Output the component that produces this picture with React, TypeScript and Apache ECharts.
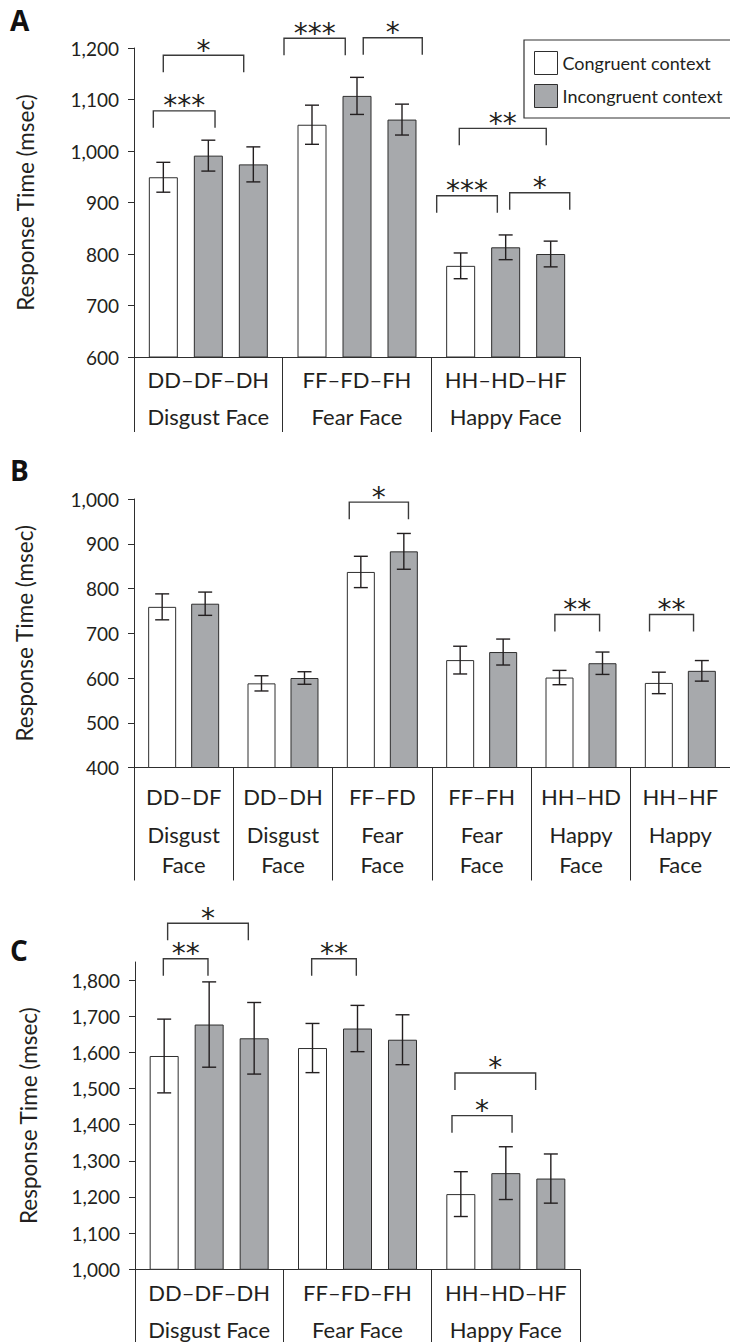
import React, { useEffect, useRef } from "react";
import * as echarts from "echarts";

const FONT = 'Lato, "Noto Sans", sans-serif';
const STAR_FONT = '"DejaVu Sans", sans-serif';
const INK = "#231f20";
const EDGE = "#2e2e2e";
const GRAY = "#a7a9ac";

// ---------- Panel A ----------
const contrastsA = ["DD–DF–DH", "FF–FD–FH", "HH–HD–HF"];
const groupsA = ["Disgust Face", "Fear Face", "Happy Face"];
const congruentA = [949, 1051, 777];
const congruentErrA = [29, 38, 25];
const incongruent1A = [991, 1107, 813];
const incongruent1ErrA = [30, 36, 24];
const incongruent2A = [974, 1061, 800];
const incongruent2ErrA = [34, 30, 25];
const ticksA = [600, 700, 800, 900, 1000, 1100, 1200];
// [x start, x end (category units), bracket level (msec), label]
const bracketsA: [number, number, number, string][] = [
  [-0.37, 0.045, 1078, "***"],
  [-0.303, 0.238, 1186, "*"],
  [0.509, 0.921, 1219, "***"],
  [1.042, 1.439, 1220, "*"],
  [1.688, 2.273, 1044, "**"],
  [1.536, 1.944, 913, "***"],
  [2.027, 2.431, 919, "*"],
];

// ---------- Panel B ----------
const contrastsB = ["DD–DF", "DD–DH", "FF–FD", "FF–FH", "HH–HD", "HH–HF"];
const groupsB = ["Disgust Face", "Disgust Face", "Fear Face", "Fear Face", "Happy Face", "Happy Face"];
const congruentB = [759, 588, 837, 640, 601, 589];
const congruentErrB = [29, 17, 35, 31, 16, 24];
const incongruentB = [766, 600, 883, 658, 633, 616];
const incongruentErrB = [26, 14, 40, 29, 25, 23];
const ticksB = [400, 500, 600, 700, 800, 900, 1000];
const bracketsB: [number, number, number, string][] = [
  [1.667, 2.263, 993, "*"],
  [3.737, 4.187, 742, "**"],
  [4.69, 5.133, 742, "**"],
];

// ---------- Panel C ----------
const contrastsC = ["DD–DF–DH", "FF–FD–FH", "HH–HD–HF"];
const groupsC = ["Disgust Face", "Fear Face", "Happy Face"];
const congruentC = [1590, 1612, 1208];
const congruentErrC = [102, 68, 62];
const incongruent1C = [1677, 1666, 1266];
const incongruent1ErrC = [118, 64, 73];
const incongruent2C = [1639, 1635, 1251];
const incongruent2ErrC = [99, 69, 68];
const ticksC = [1000, 1100, 1200, 1300, 1400, 1500, 1600, 1700, 1800];
const bracketsC: [number, number, number, string][] = [
  [-0.309, -0.008, 1859, "**"],
  [-0.28, 0.264, 1957, "*"],
  [0.691, 0.992, 1859, "**"],
  [1.637, 2.042, 1425, "*"],
  [1.657, 2.201, 1543, "*"],
];

const fmt = (v: number) => String(v).replace(/\B(?=(\d{3})+(?!\d))/g, ",");

function yAxis(grid: number, min: number, max: number, ticks: number[], nameGap: number) {
  return {
    gridIndex: grid,
    type: "value",
    min,
    max,
    interval: 100,
    name: "Response Time (msec)",
    nameLocation: "middle",
    nameGap,
    nameTextStyle: { fontFamily: FONT, fontSize: 22.5, color: INK },
    axisLine: { show: true, onZero: false, lineStyle: { color: EDGE, width: 1 } },
    axisTick: { show: true, length: 6, customValues: ticks, lineStyle: { color: EDGE, width: 1 } },
    splitLine: { show: false },
    axisLabel: {
      customValues: ticks,
      margin: 15,
      fontFamily: FONT,
      fontSize: 19,
      color: INK,
      formatter: (v: number) => fmt(v),
    },
  };
}

function catAxis(grid: number, data: string[], groups: string[], tickLen: number, rowGap: number, margin: number, split: boolean) {
  return {
    gridIndex: grid,
    type: "category",
    data,
    axisLine: { show: true, onZero: false, lineStyle: { color: EDGE, width: 1 } },
    axisTick: { show: true, interval: 0, length: tickLen, lineStyle: { color: EDGE, width: 1 } },
    axisLabel: {
      interval: 0,
      margin,
      fontFamily: FONT,
      color: INK,
      formatter: (v: string, i: number) => {
        const g = groups[i];
        if (split) {
          const w = g.split(" ");
          return `{a|${v}}\n{b|${w[0]}}\n{b|${w[1]}}`;
        }
        return `{a|${v}}\n{b|${g}}`;
      },
      rich: {
        a: { fontFamily: FONT, fontSize: 22, color: INK, lineHeight: rowGap },
        b: { fontFamily: FONT, fontSize: 22, color: INK, lineHeight: split ? 30 : rowGap },
      },
    },
  };
}

function hiddenAxis(grid: number, n: number) {
  return { gridIndex: grid, type: "value", min: -0.5, max: n - 0.5, show: false, axisLine: { onZero: false } };
}

function barSeries(name: string, xi: number, yi: number, data: number[], color: string, width: number, spacing: number) {
  return {
    type: "bar",
    name,
    xAxisIndex: xi,
    yAxisIndex: yi,
    data,
    barWidth: width,
    barGap: `${(((spacing - width) / width) * 100).toFixed(2)}%`,
    itemStyle: { color, borderColor: EDGE, borderWidth: 1 },
    z: 2,
  };
}

function errorSeries(xi: number, yi: number, means: number[][], errs: number[][], spacing: number) {
  const data: number[][] = [];
  means.forEach((arr, slot) =>
    arr.forEach((m, i) => data.push([i, m - errs[slot][i], m + errs[slot][i], slot]))
  );
  const n = means.length;
  return {
    type: "custom",
    xAxisIndex: xi,
    yAxisIndex: yi,
    data,
    z: 4,
    silent: true,
    renderItem: (_p: any, api: any) => {
      const slot = api.value(3);
      const lo = api.coord([api.value(0), api.value(1)]);
      const hi = api.coord([api.value(0), api.value(2)]);
      const x = lo[0] + (slot - (n - 1) / 2) * spacing;
      const cap = 7;
      const st = { stroke: INK, lineWidth: 1.4 };
      return {
        type: "group",
        children: [
          { type: "line", shape: { x1: x, y1: lo[1], x2: x, y2: hi[1] }, style: st },
          { type: "line", shape: { x1: x - cap, y1: hi[1], x2: x + cap, y2: hi[1] }, style: st },
          { type: "line", shape: { x1: x - cap, y1: lo[1], x2: x + cap, y2: lo[1] }, style: st },
        ],
      };
    },
  };
}

function bracketSeries(xi: number, yi: number, brackets: [number, number, number, string][]) {
  const LEG = 17;
  return {
    type: "custom",
    xAxisIndex: xi,
    yAxisIndex: yi,
    data: brackets.map((b) => [b[0], b[1], b[2]]),
    encode: { x: [0, 1], y: 2 },
    z: 5,
    silent: true,
    clip: false,
    renderItem: (p: any, api: any) => {
      const b = brackets[p.dataIndex];
      const p1 = api.coord([api.value(0), api.value(2)]);
      const p2 = api.coord([api.value(1), api.value(2)]);
      return {
        type: "group",
        children: [
          {
            type: "polyline",
            shape: { points: [[p1[0], p1[1] + LEG], [p1[0], p1[1]], [p2[0], p2[1]], [p2[0], p2[1] + LEG]] },
            style: { stroke: "#3a3a3a", lineWidth: 1.4, fill: null },
          },
          {
            type: "text",
            x: (p1[0] + p2[0]) / 2,
            y: p1[1] - 5,
            style: {
              text: b[3],
              textAlign: "center",
              textVerticalAlign: "middle",
              fontFamily: STAR_FONT,
              fontSize: 28,
              fill: INK,
            },
          },
        ],
      };
    },
  };
}

function panelLetter(text: string, y: number) {
  return {
    type: "text",
    x: 10,
    y,
    style: {
      text,
      textVerticalAlign: "middle",
      fontFamily: '"Open Sans", Lato, sans-serif',
      fontWeight: "bold",
      fontSize: 28,
      fill: "#111",
    },
  };
}

export default function App() {
  const ref = useRef<HTMLDivElement>(null);
  useEffect(() => {
    document.body.style.margin = "0";
    if (!ref.current) return;
    const chart = echarts.init(ref.current, null, { renderer: "svg" });
    const SA = 45, SB = 43, SC = 45;
    const option: any = {
      animation: false,
      backgroundColor: "#fff",
      textStyle: { fontFamily: FONT },
      grid: [
        { left: 134, top: 48, width: 446, height: 309 },
        { left: 134, top: 499, width: 600, height: 268.5 },
        { left: 135, top: 962, width: 445, height: 307.3 },
      ],
      legend: {
        data: ["Congruent context", "Incongruent context"],
        orient: "vertical",
        left: 524,
        top: 40,
        itemWidth: 23,
        itemHeight: 23,
        itemGap: 9,
        icon: "rect",
        padding: [11, 40, 10, 10],
        borderColor: "#333",
        borderWidth: 1.2,
        selectedMode: false,
        itemStyle: { borderColor: EDGE, borderWidth: 1 },
        textStyle: { fontFamily: FONT, fontSize: 18, color: INK },
      },
      xAxis: [
        catAxis(0, contrastsA, groupsA, 75, 37, 4, false),
        hiddenAxis(0, contrastsA.length),
        catAxis(1, contrastsB, groupsB, 113, 46, 6, true),
        hiddenAxis(1, contrastsB.length),
        catAxis(2, contrastsC, groupsC, 80, 37, 5, false),
        hiddenAxis(2, contrastsC.length),
      ],
      yAxis: [
        yAxis(0, 600, 1200, ticksA, 97),
        yAxis(1, 400, 1000, ticksB, 98),
        yAxis(2, 1000, 1850, ticksC, 95),
      ],
      graphic: [panelLetter("A", 20), panelLetter("B", 470), panelLetter("C", 950)],
      series: [
        barSeries("Congruent context", 0, 0, congruentA, "#fff", 29, SA),
        barSeries("Incongruent context", 0, 0, incongruent1A, GRAY, 29, SA),
        barSeries("Incongruent context", 0, 0, incongruent2A, GRAY, 29, SA),
        errorSeries(0, 0, [congruentA, incongruent1A, incongruent2A], [congruentErrA, incongruent1ErrA, incongruent2ErrA], SA),
        bracketSeries(1, 0, bracketsA),

        barSeries("Congruent context", 2, 1, congruentB, "#fff", 28, SB),
        barSeries("Incongruent context", 2, 1, incongruentB, GRAY, 28, SB),
        errorSeries(2, 1, [congruentB, incongruentB], [congruentErrB, incongruentErrB], SB),
        bracketSeries(3, 1, bracketsB),

        barSeries("Congruent context", 4, 2, congruentC, "#fff", 29, SC),
        barSeries("Incongruent context", 4, 2, incongruent1C, GRAY, 29, SC),
        barSeries("Incongruent context", 4, 2, incongruent2C, GRAY, 29, SC),
        errorSeries(4, 2, [congruentC, incongruent1C, incongruent2C], [congruentErrC, incongruent1ErrC, incongruent2ErrC], SC),
        bracketSeries(5, 2, bracketsC),
      ],
    };
    chart.setOption(option);
    return () => chart.dispose();
  }, []);
  return <div ref={ref} style={{ width: 730, height: 1342 }} />;
}
